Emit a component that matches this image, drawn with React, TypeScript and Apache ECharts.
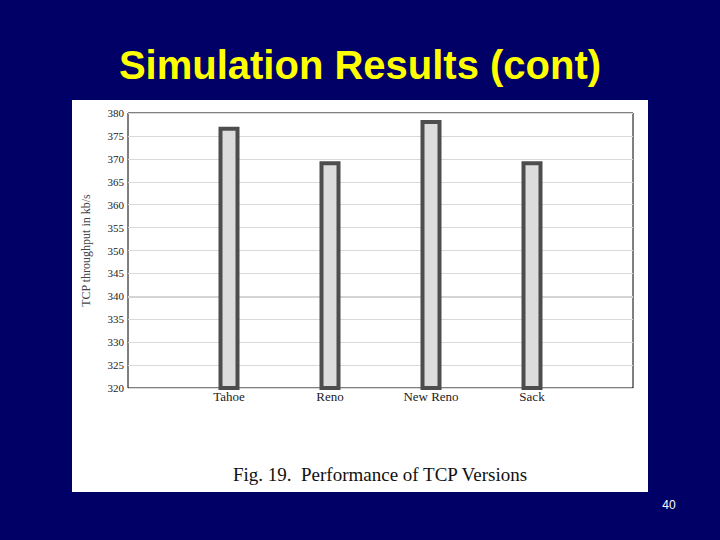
import React, { useEffect, useRef } from "react";
import * as echarts from "echarts";

const categories = ["", "Tahoe", "Reno", "New Reno", "Sack", ""];
const throughput = [null, 377, 369.5, 378.5, 369.5, null];
const yMin = 320;
const yMax = 380;
const yStep = 5;
const titleText = "Simulation Results (cont)";
const yAxisTitle = "TCP throughput in kb/s";
const captionText = "Fig. 19.  Performance of TCP Versions";
const pageNumber = "40";

export default function App() {
  const ref = useRef<HTMLDivElement>(null);
  useEffect(() => {
    if (!ref.current) return;
    const chart = echarts.init(ref.current, null, { renderer: "svg" });
    const serif = "'Liberation Serif', 'DejaVu Serif', serif";
    chart.setOption({
      animation: false,
      backgroundColor: "#000066",
      graphic: [
        {
          type: "rect",
          z: -10,
          shape: { x: 72, y: 100, width: 576, height: 392 },
          style: { fill: "#ffffff" },
          silent: true,
        },
        {
          type: "text",
          x: 360,
          y: 65,
          z: 11,
          style: {
            text: titleText,
            fill: "#ffff00",
            font: "bold 40px 'Liberation Sans', Arial, sans-serif",
            align: "center",
            verticalAlign: "middle",
          },
        },
        {
          type: "text",
          x: 380,
          y: 474,
          style: {
            text: captionText,
            fill: "#111111",
            font: `19px ${serif}`,
            align: "center",
            verticalAlign: "middle",
          },
        },
        {
          type: "text",
          x: 669,
          y: 505,
          style: {
            text: pageNumber,
            fill: "#ffffff",
            font: "12px 'Liberation Sans', Arial, sans-serif",
            align: "center",
            verticalAlign: "middle",
          },
        },
      ],
      grid: {
        left: 128,
        top: 113,
        width: 505,
        height: 275,
        show: true,
        borderColor: "#000000",
        borderWidth: 1,
        backgroundColor: "transparent",
      },
      xAxis: {
        type: "category",
        data: categories,
        boundaryGap: false,
        axisLine: { show: false },
        axisTick: { show: false },
        axisLabel: {
          color: "#222222",
          fontFamily: serif,
          fontSize: 13,
          margin: 2,
          interval: 0,
        },
        splitLine: { show: false },
      },
      yAxis: {
        type: "value",
        min: yMin,
        max: yMax,
        interval: yStep,
        name: yAxisTitle,
        nameLocation: "middle",
        nameGap: 36,
        nameTextStyle: { color: "#444444", fontFamily: serif, fontSize: 12 },
        axisLine: { show: false },
        axisTick: { show: false },
        axisLabel: {
          color: "#222222",
          fontFamily: serif,
          fontSize: 11,
          margin: 4,
        },
        splitLine: { show: true, lineStyle: { color: "#d9d9d9", width: 1 } },
      },
      series: [
        {
          type: "bar",
          data: throughput,
          barWidth: 21,
          itemStyle: {
            color: "#dcdcdc",
            borderColor: "#4d4d4d",
            borderWidth: 4,
          },
          markLine: {
            silent: true,
            symbol: "none",
            label: { show: false },
            lineStyle: { color: "#d4d4d4", width: 2, type: "solid" },
            data: [{ yAxis: 340 }],
            z: 0,
          },
        },
      ],
    });
    return () => chart.dispose();
  }, []);
  return (
    <div
      ref={ref}
      style={{ position: "fixed", left: 0, top: 0, width: 720, height: 540 }}
    />
  );
}
